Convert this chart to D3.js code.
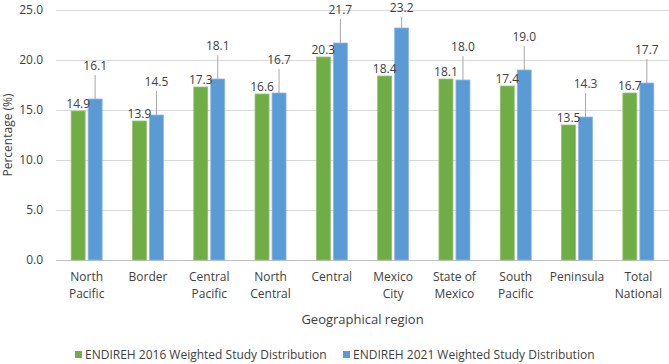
<!DOCTYPE html>
<html><head><meta charset="utf-8">
<script src="https://cdn.jsdelivr.net/npm/d3@7"></script>
<style>
body{margin:0;background:#fff;}
text{font-family:"Open Sans",sans-serif;fill:#404040;}
</style></head>
<body><svg id="c" width="669" height="364"></svg>
<script>
const categories = [["North","Pacific"],["Border"],["Central","Pacific"],["North","Central"],["Central"],["Mexico","City"],["State of","Mexico"],["South","Pacific"],["Peninsula"],["Total","National"]];
const series2016 = [14.9,13.9,17.3,16.6,20.3,18.4,18.1,17.4,13.5,16.7];
const series2021 = [16.1,14.5,18.1,16.7,21.7,23.2,18.0,19.0,14.3,17.7];
const seriesNames = ["ENDIREH 2016 Weighted Study Distribution","ENDIREH 2021 Weighted Study Distribution"];
const yTicks = [0,5,10,15,20,25];
const colors = ["#70ad47","#5b9bd5"];

(function(){
const svg = d3.select("#c");
const mL = 56, mR = 669, mT = 10, mB = 260;
const x = d3.scaleBand().domain(d3.range(categories.length)).range([mL,mR]);
const y = d3.scaleLinear().domain([0,25]).range([mB,mT]);

svg.append("g").selectAll("line").data(yTicks).join("line")
  .attr("x1",mL).attr("x2",mR)
  .attr("y1",d=>y(d)+0.5).attr("y2",d=>y(d)+0.5)
  .attr("stroke",d=>d===0?"#bfbfbf":"#d9d9d9").attr("stroke-width",1);

svg.append("g").selectAll("text").data(yTicks).join("text")
  .attr("x",43).attr("y",d=>y(d)).attr("dy","0.35em")
  .attr("text-anchor","end").attr("font-size",12)
  .text(d=>d.toFixed(1));

svg.append("text").attr("transform",`translate(8,${(mT+mB)/2}) rotate(-90)`)
  .attr("text-anchor","middle").attr("dy","0.35em").attr("font-size",12).text("Percentage (%)");

const bw = 14, gap = 3;
const g = svg.append("g");
const xs = [i=>x(i)+x.bandwidth()/2 - gap/2 - bw, i=>x(i)+x.bandwidth()/2 + gap/2];
[series2016,series2021].forEach((s,k)=>{
  g.append("g").selectAll("rect").data(s).join("rect")
    .attr("x",(d,i)=>xs[k](i)).attr("width",bw)
    .attr("y",d=>y(d)).attr("height",d=>y(0)-y(d))
    .attr("fill",colors[k]).attr("stroke",k?"#8db8e3":"#94c274").attr("stroke-width",0.8);
});

g.append("g").selectAll("text").data(series2016).join("text")
  .attr("x",(d,i)=>xs[0](i)+bw/2).attr("y",d=>y(d)-3)
  .attr("text-anchor","middle").attr("font-size",12).text(d=>d.toFixed(1));

const lift = 33;
series2021.forEach((d,i)=>{
  const cx = xs[1](i)+bw/2;
  const ly = Math.max(y(d)-lift, 8);
  g.append("line").attr("x1",cx).attr("x2",cx).attr("y1",ly+9).attr("y2",y(d))
    .attr("stroke","#a6a6a6").attr("stroke-width",1);
  g.append("text").attr("x",cx).attr("y",ly).attr("dy","0.35em")
    .attr("text-anchor","middle").attr("font-size",12).text(d.toFixed(1));
});

const xl = svg.append("g");
categories.forEach((c,i)=>{
  c.forEach((line,j)=>{
    xl.append("text").attr("x",x(i)+x.bandwidth()/2).attr("y",281+j*17)
      .attr("text-anchor","middle").attr("font-size",12).text(line);
  });
});
svg.append("text").attr("x",(mL+mR)/2).attr("y",324).attr("text-anchor","middle")
  .attr("font-size",13).text("Geographical region");

const lg = svg.append("g");
const lx = [75,343];
seriesNames.forEach((n,k)=>{
  lg.append("rect").attr("x",lx[k]).attr("y",351).attr("width",7).attr("height",7).attr("fill",colors[k]);
  lg.append("text").attr("x",lx[k]+10).attr("y",355).attr("dy","0.35em").attr("font-size",12).text(n);
});
})();
</script></body></html>
